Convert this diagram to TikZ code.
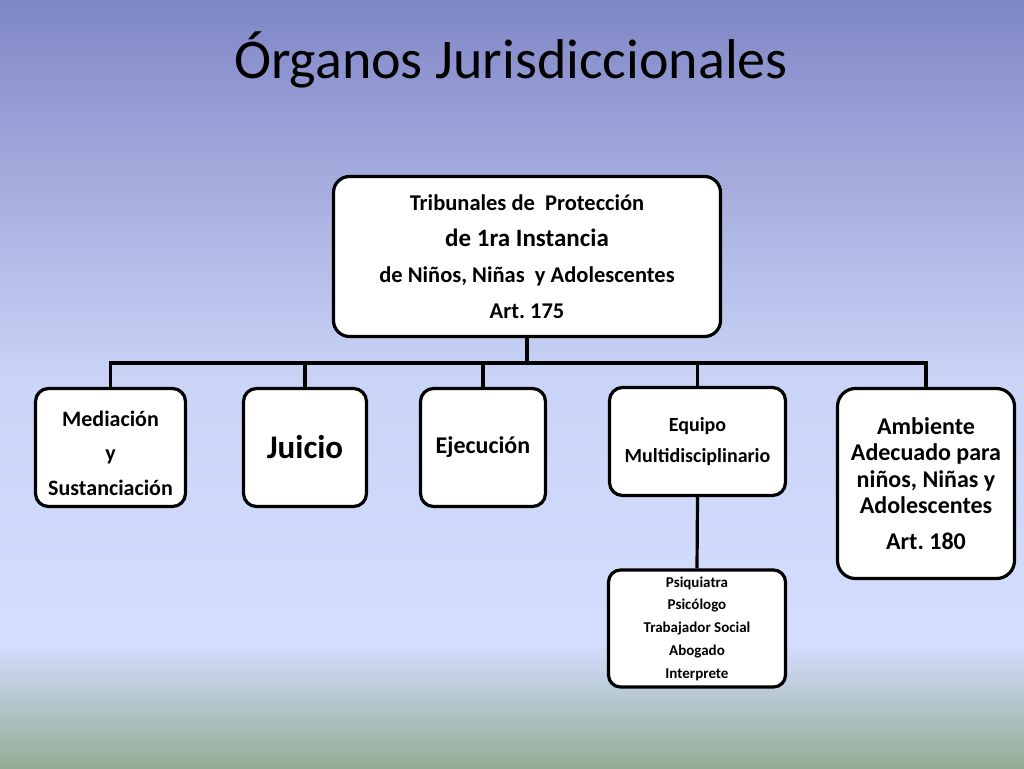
\documentclass[tikz,border=0pt]{standalone}
\usepackage{fontspec}
\setmainfont{Carlito}
\frenchspacing
\usetikzlibrary{positioning}

\definecolor{bgtop}{HTML}{7F86C6}
\definecolor{bgupper}{HTML}{A9B0E0}
\definecolor{bgmid}{HTML}{C9D4F6}
\definecolor{bglight}{HTML}{D4DEFF}
\definecolor{bgbottom}{HTML}{94AC94}

\begin{document}
\begin{tikzpicture}[
    x=1pt, y=-1pt,
    every node/.style={inner sep=0pt},
    box/.style={draw, fill=white, line width=3.2pt, rounded corners=13pt, align=center},
    link/.style={line width=3.2pt},
]
\useasboundingbox (0,0) rectangle (1024,768);
% background
\fill[top color=bgtop, bottom color=bgupper] (0,0) rectangle (1024,201);
\fill[top color=bgupper, bottom color=bgmid] (0,200) rectangle (1024,381);
\fill[top color=bgmid, bottom color=bglight] (0,380) rectangle (1024,644);
\fill[top color=bglight, bottom color=bgbottom] (0,643) rectangle (1024,768);

\node [anchor=base] (title) at (511,78) {\fontsize{56}{56}\selectfont Órganos Jurisdiccionales};

\node [box, minimum width=387, minimum height=160, rounded corners=16pt,
       font=\bfseries\fontsize{22.5}{36}\selectfont] (court) at (527,256.5)
  {Tribunales de\ \ Protección\\
   {\fontsize{25}{36}\selectfont de 1ra Instancia}\\
   de Niños, Niñas\ \ y Adolescentes\\
   Art. 175};

\node [box, minimum width=150, minimum height=118, font=\bfseries\fontsize{22}{34.5}\selectfont] (mediation) at (110.5,447.5) {\rule{0pt}{27pt}Mediación\\ y\\ Sustanciación};
\node [box, minimum width=123, minimum height=118, font=\bfseries\fontsize{33}{33}\selectfont] (trial) at (305,447.5) {Juicio};
\node [box, minimum width=125, minimum height=118, font=\bfseries\fontsize{24}{24}\selectfont] (execution) at (483,447.5) {Ejecución};
\node [box, minimum width=176, minimum height=108, font=\bfseries\fontsize{20}{31}\selectfont] (team) at (697.5,441.5) {Equipo\\ Multidisciplinario};
\node [box, minimum width=177, minimum height=190, rounded corners=18pt,
       font=\bfseries\fontsize{24}{26.5}\selectfont] (setting) at (926,483.5)
  {Ambiente\\ Adecuado para\\ niños, Niñas y\\ Adolescentes\\[9.5pt] Art. 180};
\node [box, minimum width=177, minimum height=117, rounded corners=12pt,
       font=\bfseries\fontsize{15}{22.75}\selectfont] (staff) at (697,628.5)
  {Psiquiatra\\ Psicólogo\\ Trabajador Social\\ Abogado\\ Interprete};

% connectors
\coordinate (bus) at (0,363);
\draw [link] (court.south) -- (court.south |- bus);
\draw [link] (mediation.north) -- (mediation.north |- bus) -- (setting.north |- bus) -- (setting.north);
\foreach \n in {trial, execution, team}
    \draw [link] (\n.north) -- (\n.north |- bus);
\draw [link] (team.south) -- (staff.north);
\end{tikzpicture}
\end{document}
